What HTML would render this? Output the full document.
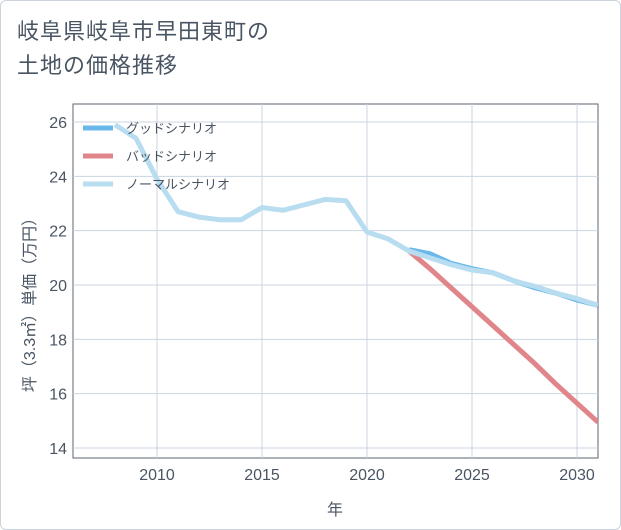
<!DOCTYPE html>
<html><head><meta charset="utf-8"><style>
body{margin:0;background:#fff;font-family:"Liberation Sans","Noto Sans CJK JP",sans-serif}
#wrap{position:relative;width:619px;height:528px;border:1px solid #ccd3dc;border-radius:6px;overflow:hidden}
#title{position:absolute;left:16px;top:14px;font-size:22px;line-height:34px;color:#4a5563;letter-spacing:1px}
svg{position:absolute;left:0;top:0}
</style></head><body>
<div id="wrap">
<div id="title">岐阜県岐阜市早田東町の<br>土地の価格推移</div>
<svg id="chart" width="621" height="530"></svg>
</div>
<script>
const years=[2008,2009,2010,2011,2012,2013,2014,2015,2016,2017,2018,2019,2020,2021,2022,2023,2024,2025,2026,2027,2028,2029,2030,2031];
const normal=[25.9,25.4,23.9,22.7,22.5,22.4,22.4,22.85,22.75,22.95,23.15,23.1,21.95,21.7,21.25,21.0,20.75,20.55,20.45,20.15,19.95,19.7,19.5,19.25];
const goodYears=[2022,2023,2024,2025,2026,2027,2028,2029,2030,2031];
const good=[21.3,21.15,20.8,20.6,20.45,20.15,19.9,19.7,19.45,19.25];
const badYears=[2022,2023,2024,2025,2026,2027,2028,2029,2030,2031];
const bad=[21.25,20.6,19.9,19.2,18.5,17.8,17.1,16.35,15.65,14.95];
const xTicks=[2010,2015,2020,2025,2030];
const yTicks=[14,16,18,20,22,24,26];
const L=72,R=597,T=103,B=457;
const x=v=>156+(v-2010)*21;
const y=v=>121+(26-v)*(326/12);
const svg=document.getElementById('chart');const NS='http://www.w3.org/2000/svg';
function mk(t,a,p){const e=document.createElementNS(NS,t);for(const k in a)e.setAttribute(k,a[k]);(p||svg).appendChild(e);return e;}
const bg=mk('rect',{x:L,y:T,width:R-L,height:B-T,fill:'#fff',stroke:'#5a6470','stroke-width':1});


xTicks.forEach(v=>{const g=mk('line',{x1:x(v),x2:x(v),y1:T,y2:B,stroke:'#c8d4e0'});


const t=mk('text',{x:x(v),y:479,'text-anchor':'middle','font-size':16,fill:'#4a5563'});t.textContent=v;

});
yTicks.forEach(v=>{const g=mk('line',{x1:L,x2:R,y1:y(v),y2:y(v),stroke:'#c8d4e0'});


const t=mk('text',{x:66,y:y(v)+6,'text-anchor':'end','font-size':16,fill:'#4a5563'});t.textContent=v;

});
const clip=mk('clipPath',{id:'c'});mk('rect',{x:L,y:T,width:R-L,height:B-T},clip);
function line(xs,vs,col,name){const p=mk('polyline',{points:xs.map((a,i)=>x(a)+','+y(vs[i])).join(' '),fill:'none',stroke:col,'stroke-width':5,'stroke-linejoin':'round','clip-path':'url(#c)'});

}
line(badYears,bad,'#e0868a','bad-scenario-line');
line(goodYears,good,'#6ab8ea','good-scenario-line');
line(years,normal,'#b8ddf0','normal-scenario-line');
const leg=[['グッドシナリオ','#6ab8ea',127],['バッドシナリオ','#e0868a',155],['ノーマルシナリオ','#b8ddf0',183]];
leg.forEach(l=>{const s=mk('line',{x1:82,x2:112,y1:l[2],y2:l[2],stroke:l[1],'stroke-width':5});


const t=mk('text',{x:125,y:l[2]+5,'font-size':13,fill:'#4a5563'});t.textContent=l[0];

});
const xt=mk('text',{x:334,y:514,'text-anchor':'middle','font-size':16,fill:'#4a5563'});xt.textContent='年';


const yt=mk('text',{x:0,y:0,'text-anchor':'middle','font-size':16,fill:'#4a5563',transform:'translate(34,300) rotate(-90)'});yt.textContent='坪（3.3㎡）単価（万円）';


</script>
</body></html>
